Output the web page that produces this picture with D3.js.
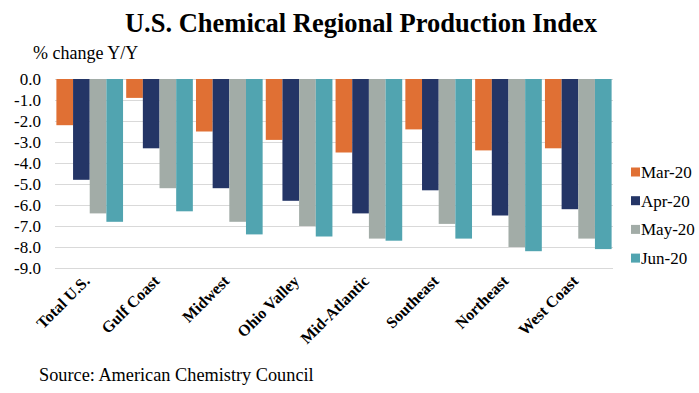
<!DOCTYPE html>
<html>
<head>
<meta charset="utf-8">
<script src="https://cdn.jsdelivr.net/npm/d3@7"></script>
<style>
  body { margin: 0; background: #fff; }
  svg text { font-family: "Liberation Serif", "DejaVu Serif", serif; fill: #000; }
</style>
</head>
<body>
<div id="chart"></div>
<script>
const regions = ["Total U.S.", "Gulf Coast", "Midwest", "Ohio Valley", "Mid-Atlantic", "Southeast", "Northeast", "West Coast"];
const months = ["Mar-20", "Apr-20", "May-20", "Jun-20"];
const mar20 = [-2.2, -0.9, -2.5, -2.9, -3.5, -2.4, -3.4, -3.3];
const apr20 = [-4.8, -3.3, -5.2, -5.8, -6.4, -5.3, -6.5, -6.2];
const may20 = [-6.4, -5.2, -6.8, -7.0, -7.6, -6.9, -8.0, -7.6];
const jun20 = [-6.8, -6.3, -7.4, -7.5, -7.7, -7.6, -8.2, -8.1];
const yTicks = [0, -1, -2, -3, -4, -5, -6, -7, -8, -9];
const colors = ["#e07034", "#243566", "#a2aca7", "#51a4b0"];

const series = [mar20, apr20, may20, jun20];
const width = 699, height = 393;

const svg = d3.select("#chart").append("svg")
  .attr("width", width)
  .attr("height", height);

const x0 = d3.scaleBand()
  .domain(regions)
  .range([55, 613])
  .paddingInner(0.045)
  .paddingOuter(0.02);

const x1 = d3.scaleBand()
  .domain(months)
  .range([0, x0.bandwidth()]);

const y = d3.scaleLinear()
  .domain([-9, 0])
  .range([268, 79]);

// gridlines
svg.append("g")
  .selectAll("line")
  .data(yTicks)
  .enter().append("line")
  .attr("x1", 55)
  .attr("x2", 613)
  .attr("y1", d => Math.round(y(d)) + 0.5)
  .attr("y2", d => Math.round(y(d)) + 0.5)
  .attr("stroke", "#d9d9d9")
  .attr("stroke-width", 1);

// y axis labels (plain hyphen, like the source)
const yAxis = d3.axisLeft(y)
  .tickValues(yTicks)
  .tickFormat(d => d.toFixed(1))
  .tickSize(0)
  .tickPadding(0);

svg.append("g")
  .attr("transform", "translate(41,0)")
  .call(yAxis)
  .call(g => g.select(".domain").remove())
  .selectAll("text")
  .style("font-family", "'Liberation Serif', serif")
  .style("font-size", "17px")
  .attr("fill", "#000");

// bars
const groups = svg.append("g")
  .selectAll("g")
  .data(regions)
  .enter().append("g")
  .attr("transform", d => "translate(" + x0(d) + ",0)");

groups.selectAll("rect")
  .data((d, i) => months.map((m, j) => ({ month: m, value: series[j][i], k: j })))
  .enter().append("rect")
  .attr("x", d => x1(d.month))
  .attr("width", x1.bandwidth())
  .attr("y", y(0))
  .attr("height", d => y(d.value) - y(0))
  .attr("fill", d => colors[d.k]);

// x labels, rotated
svg.append("g")
  .selectAll("text")
  .data(regions)
  .enter().append("text")
  .attr("transform", d => "translate(" + (x0(d) + x0.bandwidth() / 2 + 1) + ",282) rotate(-45)")
  .attr("text-anchor", "end")
  .style("font-weight", "bold")
  .style("font-size", "16px")
  .text(d => d);

// title
svg.append("text")
  .attr("x", 361)
  .attr("y", 32)
  .attr("text-anchor", "middle")
  .style("font-weight", "bold")
  .style("font-size", "26.5px")
  .text("U.S. Chemical Regional Production Index");

svg.append("text")
  .attr("x", 33)
  .attr("y", 59)
  .style("font-size", "18px")
  .text("% change Y/Y");

svg.append("text")
  .attr("x", 39)
  .attr("y", 381)
  .style("font-size", "18.3px")
  .text("Source: American Chemistry Council");

// legend
const legend = svg.append("g")
  .selectAll("g")
  .data(months)
  .enter().append("g")
  .attr("transform", (d, i) => "translate(631," + (172 + i * 28.7) + ")");

legend.append("rect")
  .attr("x", 0)
  .attr("y", -4.5)
  .attr("width", 9)
  .attr("height", 9)
  .attr("fill", (d, i) => colors[i]);

legend.append("text")
  .attr("x", 10)
  .attr("y", 6)
  .style("font-size", "17px")
  .text(d => d);
</script>
</body>
</html>
